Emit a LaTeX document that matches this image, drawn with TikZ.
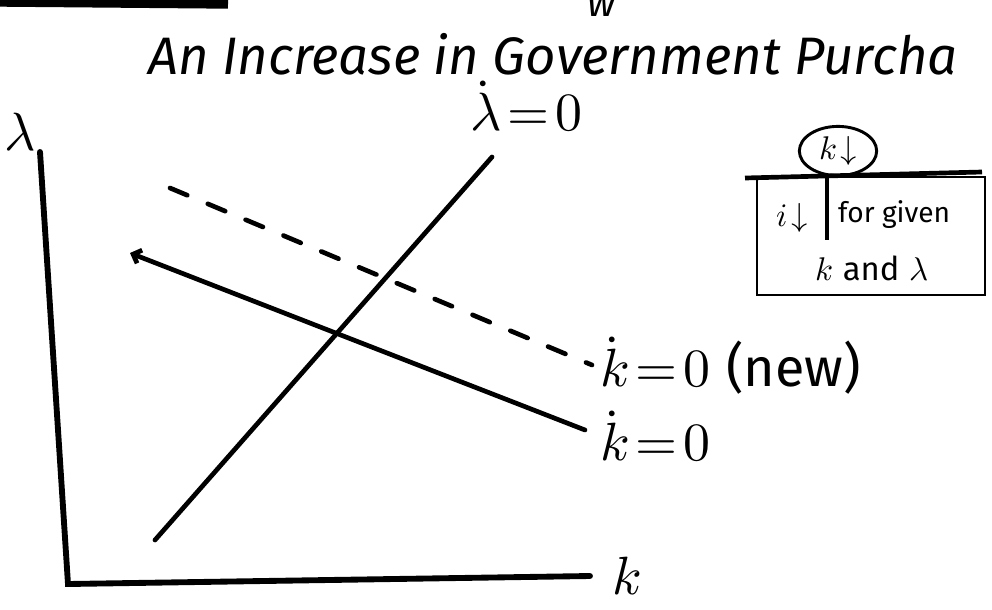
\documentclass[tikz,border=0pt]{standalone}
\usepackage{fontspec}
\usepackage{unicode-math}
\setsansfont{Fira Sans}
\usetikzlibrary{positioning,calc,arrows.meta,shapes.geometric}
\tikzset{
  ax/.style={line width=5pt, line cap=round},
  crv/.style={line width=4pt, line cap=round},
  dcrv/.style={line width=4pt, line cap=round, dash pattern=on 16pt off 19pt},
  lbl/.style={font=\fontsize{46}{50}\selectfont, inner sep=0pt},
  note/.style={font=\fontsize{28}{32}\selectfont, inner sep=0pt},
  hand/.style={font=\sffamily\itshape\fontsize{45}{50}\selectfont, inner sep=0pt}}
\begin{document}
\begin{tikzpicture}[x=0.03cm, y=-0.03cm]
\useasboundingbox (0,0) rectangle (992,609);
% cut-off bits at the top
\draw[line width=8pt] (0,2) -- (228,4);
\node[hand, font=\sffamily\itshape\fontsize{34}{38}\selectfont] (w) at (602,6) {w};
\node[hand, anchor=base west] (ttl) at (148,74) {An Increase in Government Purcha};
% axes
\coordinate (ytop) at (40,152);
\coordinate (orig) at (68,584);
\coordinate (xend) at (590,576);
\draw[ax] (ytop) -- (orig) -- (xend);
\node[lbl] (lam) at (20,132) {$\lambda$};
\node[lbl, anchor=west] (kax) at (612,576) {$k$};
% lambda-dot = 0
\coordinate (l0a) at (155,540);
\coordinate (l0b) at (492,157);
\draw[crv] (l0a) -- (l0b);
\node[lbl, anchor=west] (ldot) at (470,106) {$\dot\lambda\!=\!0$};
% k-dot = 0, old and new
\coordinate (k0a) at (130,253);
\coordinate (k0b) at (585,430);
\draw[crv, {Straight Barb[length=6pt, width=12pt]}-] (k0a) -- (k0b);
\node[lbl, anchor=west] (kdot) at (600,436) {$\dot k\!=\!0$};
\coordinate (k1a) at (170,188);
\coordinate (k1b) at (592,365);
\draw[dcrv] (k1a) -- (k1b);
\node[lbl, anchor=west] (kdnew) at (600,366) {$\dot k\!=\!0$ \textsf{(new)}};
% side note
\node[ellipse, draw, line width=2.5pt, minimum width=66pt, minimum height=42pt, inner sep=0pt,
      note] (kdn) at (838,151) {$k\!\downarrow$};
\coordinate (bl) at (745,178);
\coordinate (br) at (982,172);
\draw[line width=4pt] (bl) -- (br);
\coordinate (boxtl) at (757,177);
\coordinate (boxbr) at (985,295);
\draw[line width=2.5pt] (boxtl) rectangle (boxbr);
\coordinate (stem) at (827,240);
\draw[line width=3pt] (stem |- kdn.south) -- (stem);
\node[note] (idn) at (792,218) {$i\!\downarrow$};
\node[font=\sffamily\fontsize{24}{28}\selectfont, inner sep=0pt, anchor=west] (fg) at (838,215) {for given};
\node[note] (kl) at (872,268) {$k$ \textsf{and} $\lambda$};
\end{tikzpicture}
\end{document}
